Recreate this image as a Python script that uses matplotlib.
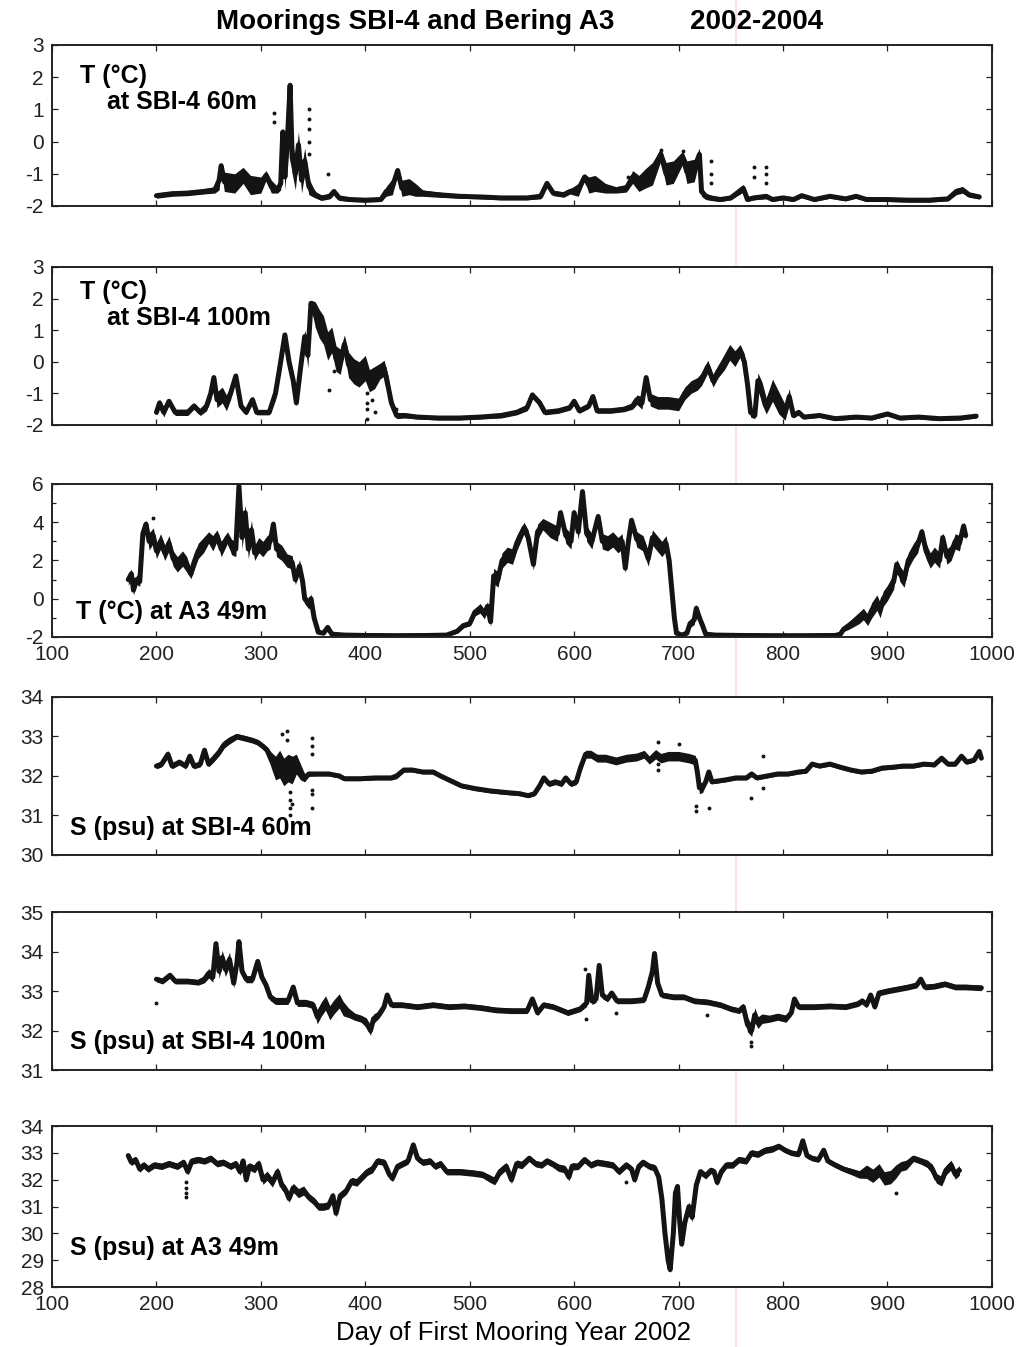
import matplotlib
matplotlib.use("Agg")
import matplotlib.pyplot as plt
from matplotlib.lines import Line2D
import numpy as np

plt.rcParams['font.family'] = ['Liberation Sans', 'DejaVu Sans']
plt.rcParams['axes.unicode_minus'] = False

# ---- T at SBI-4 60m : day, value, half-width of the noise band
t60_day = [200, 215, 230, 245, 256, 260, 262, 265, 275, 283, 290, 300, 305, 310, 316, 319, 321, 323,
           325, 328, 330, 333, 336, 339, 342, 346, 352, 358, 366, 370, 375, 385, 400, 415, 420, 426,
           431, 435, 442, 448, 455, 470, 490, 510, 530, 555, 568, 574, 580, 590, 596, 604, 610, 614,
           620, 630, 640, 650, 656, 662, 668, 675, 683, 688, 695, 704, 708, 715, 720, 722, 726, 731,
           740, 750, 762, 766, 772, 784, 790, 800, 810, 818, 830, 845, 860, 870, 880, 900, 920, 940,
           958, 966, 972, 978, 988]
t60_val = [-1.68, -1.62, -1.6, -1.55, -1.5, -1.2, -0.75, -1.25, -1.3, -1.05, -1.35, -1.35, -1.05, -1.4,
           -1.5, -1.3, 0.3, -1.1, -0.2, 1.75, -0.5, -1.0, -0.1, -1.2, -0.6, -1.4, -1.65, -1.75, -1.7,
           -1.55, -1.75, -1.8, -1.82, -1.8, -1.55, -1.4, -0.9, -1.45, -1.4, -1.5, -1.6, -1.65, -1.7,
           -1.72, -1.75, -1.75, -1.7, -1.3, -1.6, -1.65, -1.55, -1.5, -1.1, -1.35, -1.3, -1.45, -1.5,
           -1.45, -1.1, -1.3, -1.15, -1.0, -0.4, -1.0, -0.95, -0.5, -0.95, -0.9, -0.4, -1.55, -1.7,
           -1.75, -1.8, -1.75, -1.45, -1.8, -1.75, -1.7, -1.8, -1.75, -1.8, -1.68, -1.8, -1.7, -1.78,
           -1.7, -1.8, -1.8, -1.82, -1.82, -1.78, -1.55, -1.5, -1.65, -1.72]
t60_band = [0.08, 0.08, 0.08, 0.08, 0.1, 0.3, 0.1, 0.3, 0.3, 0.25, 0.3, 0.25, 0.15, 0.2, 0.1, 0.2,
            0.15, 0.4, 0.4, 0.1, 0.5, 0.5, 0.4, 0.4, 0.4, 0.25, 0.1, 0.08, 0.08, 0.1, 0.08, 0.06, 0.06,
            0.06, 0.15, 0.25, 0.1, 0.25, 0.25, 0.2, 0.1, 0.08, 0.06, 0.06, 0.06, 0.06, 0.08, 0.1, 0.08,
            0.08, 0.08, 0.2, 0.1, 0.25, 0.25, 0.15, 0.1, 0.12, 0.2, 0.25, 0.3, 0.35, 0.2, 0.35, 0.35,
            0.2, 0.35, 0.35, 0.2, 0.15, 0.1, 0.08, 0.06, 0.06, 0.12, 0.06, 0.06, 0.08, 0.06, 0.06, 0.06,
            0.06, 0.06, 0.06, 0.06, 0.06, 0.06, 0.06, 0.06, 0.06, 0.06, 0.1, 0.1, 0.08, 0.06]
t60_dot_day = [313, 313, 346, 346, 346, 346, 346, 364, 731, 731, 731, 772, 772, 784, 784, 784, 683, 704, 652]
t60_dot_val = [0.6, 0.9, 1.0, 0.7, 0.4, 0.0, -0.4, -1.0, -0.6, -1.0, -1.3, -0.8, -1.1, -0.8, -1.0, -1.3,
               -0.25, -0.3, -1.1]

# ---- T at SBI-4 100m
t100_day = [200, 203, 207, 212, 218, 230, 236, 242, 248, 252, 255, 258, 263, 267, 271, 276, 281, 286,
            292, 296, 308, 314, 318, 323, 327, 331, 334, 338, 342, 345, 348, 352, 356, 360, 364, 368,
            372, 376, 380, 384, 389, 394, 400, 404, 409, 414, 418, 422, 425, 430, 438, 450, 470, 490,
            510, 530, 545, 555, 560, 567, 572, 585, 596, 600, 605, 614, 618, 622, 635, 648, 656, 660,
            665, 669, 673, 680, 690, 700, 706, 712, 718, 722, 728, 733, 738, 744, 749, 754, 759, 763,
            766, 769, 773, 776, 780, 784, 790, 796, 802, 806, 810, 815, 820, 835, 850, 870, 885, 900,
            912, 930, 950, 970, 985]
t100_val = [-1.6, -1.3, -1.6, -1.25, -1.6, -1.6, -1.4, -1.6, -1.4, -1.0, -0.5, -1.2, -1.05, -1.3, -1.0,
            -0.45, -1.4, -1.6, -1.2, -1.6, -1.6, -1.0, -0.2, 0.85, 0.0, -0.6, -1.3, -0.2, 0.8, 0.2, 1.85,
            1.5, 1.2, 1.0, 0.5, 0.7, 0.1, 0.0, 0.55, -0.1, -0.3, -0.4, -0.2, -0.6, -0.5, -0.3, -0.2, -0.8,
            -1.3, -1.7, -1.7, -1.75, -1.78, -1.78, -1.75, -1.7, -1.6, -1.45, -1.05, -1.3, -1.6, -1.55,
            -1.45, -1.25, -1.55, -1.4, -1.1, -1.55, -1.55, -1.5, -1.4, -1.2, -1.3, -0.5, -1.2, -1.3, -1.3,
            -1.35, -1.0, -0.8, -0.7, -0.55, -0.15, -0.6, -0.3, 0.0, 0.3, 0.1, 0.35, 0.0, -0.7, -1.6, -1.7,
            -0.6, -1.0, -1.4, -0.9, -1.3, -1.6, -1.1, -1.7, -1.6, -1.75, -1.7, -1.8, -1.75, -1.78, -1.65,
            -1.78, -1.75, -1.8, -1.78, -1.72]
t100_band = [0.1, 0.1, 0.15, 0.1, 0.1, 0.1, 0.1, 0.1, 0.15, 0.2, 0.1, 0.25, 0.25, 0.25, 0.2, 0.1, 0.1,
             0.08, 0.1, 0.08, 0.08, 0.2, 0.25, 0.1, 0.25, 0.25, 0.1, 0.25, 0.2, 0.4, 0.1, 0.4, 0.45,
             0.45, 0.45, 0.4, 0.4, 0.4, 0.3, 0.4, 0.4, 0.4, 0.4, 0.35, 0.35, 0.25, 0.25, 0.35, 0.2, 0.1,
             0.08, 0.06, 0.06, 0.06, 0.06, 0.08, 0.08, 0.1, 0.1, 0.1, 0.08, 0.08, 0.08, 0.1, 0.08, 0.08,
             0.08, 0.08, 0.08, 0.08, 0.1, 0.15, 0.2, 0.1, 0.2, 0.2, 0.2, 0.2, 0.2, 0.2, 0.2, 0.2, 0.2,
             0.2, 0.2, 0.25, 0.25, 0.25, 0.2, 0.25, 0.25, 0.15, 0.1, 0.25, 0.35, 0.25, 0.35, 0.35, 0.25,
             0.25, 0.08, 0.08, 0.06, 0.06, 0.06, 0.06, 0.06, 0.06, 0.06, 0.06, 0.06, 0.06, 0.06]
t100_dot_day = [365, 370, 402, 402, 402, 402, 406, 409, 429]
t100_dot_val = [-0.9, -0.3, -1.0, -1.3, -1.5, -1.8, -1.2, -1.6, -1.5]

# ---- T at A3 49m
ta3_day = [173, 176, 178, 181, 184, 187, 190, 193, 197, 200, 204, 208, 212, 216, 220, 225, 229, 233,
           236, 240, 245, 250, 254, 258, 262, 268, 272, 276, 279, 282, 285, 288, 291, 294, 298, 302,
           306, 309, 312, 315, 320, 325, 330, 333, 337, 340, 342, 346, 348, 351, 355, 360, 364, 368,
           380, 400, 430, 460, 478, 488, 494, 500, 505, 510, 514, 517, 520, 523, 527, 531, 536, 541,
           545, 552, 556, 561, 565, 570, 577, 584, 587, 592, 597, 600, 604, 608, 612, 617, 623, 627,
           632, 637, 642, 646, 649, 652, 655, 660, 666, 671, 675, 678, 684, 688, 691, 694, 696, 698,
           703, 708, 711, 715, 717, 720, 723, 726, 735, 760, 790, 820, 850, 855, 858, 863, 868, 873,
           877, 881, 885, 890, 893, 896, 900, 903, 906, 909, 912, 916, 920, 925, 929, 933, 937, 941,
           945, 950, 953, 957, 961, 965, 969, 973, 975]
ta3_val = [1.0, 1.3, 0.45, 1.0, 0.9, 3.4, 3.9, 3.0, 3.3, 2.5, 3.0, 2.4, 2.9, 2.1, 1.8, 2.1, 1.8, 1.3,
           1.9, 2.5, 2.8, 3.2, 2.9, 3.3, 2.6, 3.2, 2.7, 2.6, 5.9, 3.2, 4.5, 2.6, 3.6, 2.4, 2.8, 2.6,
           2.9, 3.0, 3.9, 2.6, 2.4, 2.0, 1.9, 1.0, 1.7, 0.9, 0.0, -0.3, 0.0, -1.0, -1.75, -1.8, -1.5,
           -1.85, -1.9, -1.92, -1.93, -1.92, -1.9, -1.7, -1.4, -1.3, -0.7, -0.5, -0.8, -0.4, -1.2, 1.2,
           1.0, 2.0, 2.3, 2.2, 2.9, 3.7, 3.2, 1.8, 3.5, 3.9, 3.6, 3.4, 4.5, 3.3, 3.0, 4.5, 3.5, 5.6,
           3.4, 3.0, 4.3, 3.0, 2.9, 3.1, 2.8, 3.0, 1.6, 3.0, 4.1, 3.1, 2.9, 2.1, 3.2, 3.0, 2.6, 2.9,
           2.0, 0.2, -1.0, -1.8, -1.9, -1.8, -1.3, -1.1, -0.5, -1.0, -1.4, -1.85, -1.9, -1.92, -1.93,
           -1.93, -1.92, -1.85, -1.6, -1.4, -1.2, -1.0, -0.8, -1.1, -0.6, -0.2, -0.6, 0.0, 0.3, 0.6,
           0.9, 1.8, 1.3, 1.0, 2.0, 2.5, 2.8, 3.5, 2.5, 2.0, 2.3, 2.0, 3.2, 2.2, 2.4, 3.0, 2.9, 3.8, 3.3]
ta3_band = [0.3, 0.25, 0.25, 0.25, 0.25, 0.35, 0.2, 0.45, 0.4, 0.4, 0.4, 0.4, 0.4, 0.4, 0.4, 0.4, 0.4,
            0.25, 0.4, 0.4, 0.4, 0.3, 0.4, 0.3, 0.4, 0.3, 0.4, 0.4, 0.2, 0.6, 0.4, 0.5, 0.5, 0.4, 0.4,
            0.4, 0.4, 0.4, 0.2, 0.4, 0.4, 0.35, 0.35, 0.25, 0.35, 0.35, 0.25, 0.25, 0.25, 0.25, 0.1,
            0.08, 0.1, 0.06, 0.05, 0.05, 0.05, 0.05, 0.05, 0.1, 0.12, 0.12, 0.2, 0.25, 0.25, 0.25, 0.25,
            0.4, 0.4, 0.4, 0.4, 0.4, 0.4, 0.3, 0.4, 0.3, 0.4, 0.3, 0.4, 0.4, 0.2, 0.4, 0.4, 0.2, 0.4,
            0.2, 0.4, 0.4, 0.2, 0.4, 0.4, 0.4, 0.4, 0.4, 0.25, 0.4, 0.2, 0.4, 0.4, 0.4, 0.4, 0.4, 0.4,
            0.4, 0.4, 0.35, 0.25, 0.1, 0.06, 0.06, 0.2, 0.25, 0.2, 0.25, 0.2, 0.06, 0.05, 0.05, 0.05,
            0.05, 0.05, 0.05, 0.12, 0.2, 0.25, 0.3, 0.3, 0.3, 0.4, 0.4, 0.4, 0.4, 0.4, 0.4, 0.4, 0.25,
            0.4, 0.4, 0.4, 0.4, 0.4, 0.2, 0.4, 0.4, 0.4, 0.4, 0.25, 0.4, 0.4, 0.4, 0.4, 0.2, 0.25]
ta3_dot_day = [197]
ta3_dot_val = [4.2]

# ---- S at SBI-4 60m
s60_day = [200, 205, 211, 215, 222, 228, 232, 236, 242, 246, 250, 255, 260, 265, 270, 277, 285, 292,
           297, 302, 306, 310, 314, 318, 322, 326, 330, 334, 338, 342, 346, 355, 365, 375, 380, 395,
           410, 425, 430, 437, 445, 455, 465, 472, 480, 492, 505, 520, 535, 548, 556, 562, 567, 571,
           576, 582, 588, 592, 597, 602, 606, 611, 616, 622, 630, 640, 650, 660, 667, 672, 678, 683,
           690, 700, 710, 716, 718, 720, 723, 726, 729, 732, 745, 755, 765, 770, 775, 785, 795, 805,
           815, 822, 828, 835, 845, 855, 865, 875, 885, 895, 905, 915, 925, 935, 945, 952, 958, 965,
           971, 976, 983, 988, 990]
s60_val = [32.25, 32.3, 32.55, 32.25, 32.35, 32.25, 32.5, 32.25, 32.3, 32.65, 32.3, 32.45, 32.6, 32.8,
           32.9, 33.0, 32.95, 32.9, 32.85, 32.75, 32.65, 32.4, 32.2, 32.3, 32.1, 32.2, 32.15, 32.3,
           32.1, 31.95, 32.05, 32.05, 32.05, 32.0, 31.93, 31.93, 31.95, 31.95, 32.0, 32.15, 32.15,
           32.1, 32.1, 32.0, 31.9, 31.75, 31.68, 31.62, 31.58, 31.55, 31.5, 31.55, 31.75, 31.95, 31.8,
           31.85, 31.8, 31.95, 31.8, 31.85, 32.2, 32.55, 32.55, 32.45, 32.45, 32.38, 32.45, 32.48,
           32.55, 32.4, 32.55, 32.45, 32.5, 32.5, 32.45, 32.4, 32.1, 31.7, 31.7, 31.85, 32.1, 31.85,
           31.9, 31.95, 31.95, 32.05, 31.95, 32.0, 32.05, 32.05, 32.1, 32.12, 32.3, 32.25, 32.3, 32.22,
           32.15, 32.1, 32.12, 32.2, 32.22, 32.25, 32.25, 32.3, 32.28, 32.45, 32.3, 32.3, 32.5, 32.35,
           32.4, 32.62, 32.45]
s60_band = [0.07, 0.07, 0.09, 0.07, 0.07, 0.07, 0.09, 0.07, 0.07, 0.09, 0.07, 0.09, 0.09, 0.09, 0.09,
            0.07, 0.07, 0.07, 0.07, 0.07, 0.09, 0.2, 0.3, 0.35, 0.35, 0.35, 0.35, 0.25, 0.2, 0.1, 0.06,
            0.05, 0.05, 0.05, 0.05, 0.05, 0.05, 0.05, 0.07, 0.05, 0.05, 0.05, 0.05, 0.05, 0.05, 0.05,
            0.05, 0.05, 0.05, 0.05, 0.05, 0.05, 0.07, 0.07, 0.07, 0.07, 0.07, 0.07, 0.07, 0.07, 0.09,
            0.1, 0.1, 0.1, 0.1, 0.1, 0.1, 0.1, 0.1, 0.1, 0.12, 0.12, 0.12, 0.12, 0.12, 0.12, 0.12,
            0.15, 0.12, 0.07, 0.05, 0.05, 0.05, 0.05, 0.05, 0.06, 0.05, 0.05, 0.05, 0.05, 0.05, 0.05,
            0.05, 0.05, 0.05, 0.05, 0.05, 0.05, 0.05, 0.05, 0.05, 0.05, 0.05, 0.05, 0.05, 0.05, 0.05,
            0.05, 0.06, 0.05, 0.05, 0.06, 0.05]
s60_dot_day = [320, 325, 325, 328, 328, 328, 328, 330, 349, 349, 349, 349, 349, 349, 680, 680, 680,
               700, 717, 717, 729, 769, 781, 781]
s60_dot_val = [33.05, 32.9, 33.15, 31.0, 31.2, 31.4, 31.6, 31.3, 32.95, 32.75, 32.55, 31.65, 31.55,
               31.2, 32.85, 32.3, 32.15, 32.8, 31.1, 31.25, 31.2, 31.45, 32.5, 31.7]

# ---- S at SBI-4 100m
s100_day = [200, 206, 213, 218, 230, 240, 246, 250, 254, 257, 260, 263, 266, 270, 274, 277, 279, 282,
            286, 292, 297, 301, 305, 309, 314, 320, 326, 331, 335, 343, 350, 354, 358, 362, 366, 370,
            375, 379, 384, 390, 396, 401, 405, 408, 413, 418, 421, 425, 435, 450, 465, 480, 495, 510,
            525, 540, 555, 560, 565, 571, 580, 594, 606, 612, 614, 617, 621, 624, 627, 632, 636, 641,
            655, 667, 671, 675, 677, 680, 684, 695, 705, 715, 728, 740, 750, 758, 762, 766, 770, 773,
            776, 780, 787, 795, 803, 808, 811, 815, 830, 845, 860, 872, 876, 880, 884, 888, 892, 900,
            910, 920, 928, 932, 936, 945, 955, 965, 975, 990]
s100_val = [33.3, 33.25, 33.4, 33.25, 33.25, 33.22, 33.3, 33.45, 33.35, 34.2, 33.5, 33.85, 33.55, 33.8,
            33.2, 33.7, 34.25, 33.5, 33.3, 33.3, 33.75, 33.35, 33.15, 32.85, 32.75, 32.75, 32.75, 33.1,
            32.7, 32.7, 32.65, 32.35, 32.55, 32.7, 32.45, 32.6, 32.75, 32.55, 32.45, 32.35, 32.3, 32.2,
            32.0, 32.3, 32.4, 32.6, 32.9, 32.65, 32.65, 32.6, 32.65, 32.6, 32.62, 32.58, 32.52, 32.5,
            32.5, 32.8, 32.45, 32.65, 32.6, 32.45, 32.55, 32.7, 33.4, 32.75, 32.8, 33.65, 32.9, 32.8,
            32.95, 32.75, 32.75, 32.78, 33.1, 33.5, 33.95, 33.2, 32.9, 32.85, 32.85, 32.75, 32.72,
            32.65, 32.55, 32.5, 32.6, 32.15, 32.0, 32.4, 32.2, 32.3, 32.3, 32.35, 32.3, 32.45, 32.8,
            32.6, 32.6, 32.62, 32.6, 32.68, 32.75, 32.65, 32.9, 32.6, 32.95, 33.0, 33.05, 33.1, 33.15,
            33.3, 33.1, 33.12, 33.18, 33.1, 33.1, 33.08]
s100_band = [0.07, 0.07, 0.07, 0.07, 0.07, 0.07, 0.09, 0.12, 0.12, 0.08, 0.18, 0.18, 0.18, 0.18, 0.12,
             0.12, 0.08, 0.12, 0.09, 0.09, 0.08, 0.09, 0.09, 0.09, 0.09, 0.09, 0.09, 0.08, 0.09, 0.09,
             0.09, 0.18, 0.18, 0.18, 0.18, 0.18, 0.18, 0.18, 0.12, 0.09, 0.09, 0.12, 0.12, 0.12, 0.09,
             0.09, 0.07, 0.07, 0.07, 0.07, 0.07, 0.07, 0.07, 0.07, 0.07, 0.07, 0.07, 0.06, 0.07, 0.07,
             0.07, 0.07, 0.07, 0.09, 0.08, 0.09, 0.09, 0.08, 0.09, 0.07, 0.07, 0.07, 0.07, 0.07, 0.12,
             0.18, 0.08, 0.12, 0.07, 0.07, 0.07, 0.07, 0.07, 0.07, 0.07, 0.07, 0.09, 0.18, 0.15, 0.18,
             0.15, 0.12, 0.09, 0.09, 0.09, 0.07, 0.06, 0.07, 0.07, 0.07, 0.07, 0.07, 0.07, 0.07, 0.07,
             0.07, 0.07, 0.07, 0.07, 0.07, 0.07, 0.06, 0.07, 0.07, 0.07, 0.07, 0.07, 0.07]
s100_dot_day = [200, 610, 611, 640, 727, 769, 769]
s100_dot_val = [32.7, 33.55, 32.3, 32.45, 32.4, 31.6, 31.7]

# ---- S at A3 49m
sa3_day = [173, 176, 180, 184, 188, 192, 198, 205, 212, 220, 226, 230, 234, 240, 246, 252, 258, 264,
           271, 276, 280, 283, 286, 289, 294, 298, 302, 306, 311, 316, 320, 324, 327, 331, 336, 341,
           346, 351, 355, 360, 365, 369, 372, 376, 382, 387, 392, 397, 402, 407, 412, 418, 423, 426,
           431, 436, 441, 446, 450, 455, 462, 467, 472, 478, 490, 503, 512, 519, 524, 529, 535, 540,
           545, 550, 557, 563, 569, 574, 579, 585, 591, 595, 598, 604, 610, 616, 622, 630, 637, 643,
           650, 655, 658, 662, 666, 672, 677, 681, 684, 687, 690, 692, 695, 697, 699, 701, 703, 706,
           710, 713, 717, 721, 726, 731, 734, 737, 741, 746, 752, 758, 765, 770, 776, 783, 790, 796,
           802, 808, 815, 819, 823, 828, 834, 839, 843, 850, 858, 866, 873, 880, 886, 892, 897, 903,
           908, 913, 918, 925, 932, 938, 943, 947, 952, 956, 961, 965, 969]
sa3_val = [32.9, 32.65, 32.75, 32.4, 32.55, 32.4, 32.55, 32.5, 32.6, 32.5, 32.65, 32.3, 32.7, 32.75,
           32.7, 32.8, 32.6, 32.65, 32.5, 32.6, 32.3, 32.7, 32.0, 32.5, 32.4, 32.6, 32.0, 32.15, 31.9,
           32.3, 31.8, 31.6, 31.3, 31.7, 31.5, 31.6, 31.35, 31.2, 31.0, 31.0, 31.05, 31.4, 30.75, 31.4,
           31.6, 31.95, 31.9, 32.1, 32.3, 32.4, 32.7, 32.65, 32.2, 32.05, 32.5, 32.6, 32.7, 33.3, 32.8,
           32.65, 32.7, 32.5, 32.6, 32.3, 32.3, 32.25, 32.2, 32.05, 31.95, 32.3, 32.5, 32.0, 32.6,
           32.55, 32.8, 32.6, 32.55, 32.7, 32.6, 32.45, 32.4, 32.1, 32.5, 32.5, 32.75, 32.55, 32.65,
           32.6, 32.55, 32.3, 32.55, 32.4, 32.0, 32.5, 32.65, 32.5, 32.45, 32.1, 31.3, 30.0, 29.0,
           28.65, 30.0, 31.5, 31.75, 30.5, 29.6, 30.4, 31.0, 30.6, 31.8, 32.3, 32.15, 32.35, 32.3,
           31.9, 32.3, 32.55, 32.55, 32.75, 32.7, 33.0, 32.95, 33.1, 33.15, 33.25, 33.1, 33.0, 32.95,
           33.45, 32.9, 32.8, 32.75, 33.1, 32.7, 32.55, 32.4, 32.3, 32.2, 32.3, 32.15, 32.35, 32.05,
           32.1, 32.3, 32.5, 32.55, 32.8, 32.7, 32.6, 32.4, 32.05, 31.95, 32.35, 32.55, 32.2, 32.35]
sa3_band = [0.12, 0.12, 0.12, 0.12, 0.12, 0.12, 0.12, 0.12, 0.12, 0.12, 0.12, 0.12, 0.12, 0.12, 0.12,
            0.12, 0.12, 0.12, 0.12, 0.12, 0.14, 0.12, 0.12, 0.14, 0.14, 0.14, 0.17, 0.17, 0.17, 0.17,
            0.17, 0.17, 0.14, 0.17, 0.17, 0.17, 0.14, 0.14, 0.14, 0.14, 0.14, 0.14, 0.14, 0.14, 0.14,
            0.14, 0.14, 0.14, 0.14, 0.14, 0.12, 0.12, 0.12, 0.12, 0.12, 0.12, 0.12, 0.12, 0.12, 0.12,
            0.12, 0.12, 0.12, 0.12, 0.12, 0.12, 0.12, 0.14, 0.14, 0.14, 0.14, 0.14, 0.14, 0.14, 0.12,
            0.12, 0.12, 0.12, 0.12, 0.14, 0.14, 0.14, 0.14, 0.12, 0.12, 0.12, 0.12, 0.12, 0.12, 0.12,
            0.12, 0.12, 0.12, 0.12, 0.12, 0.12, 0.12, 0.12, 0.14, 0.17, 0.17, 0.12, 0.17, 0.17, 0.12,
            0.17, 0.12, 0.17, 0.17, 0.17, 0.17, 0.12, 0.12, 0.12, 0.12, 0.12, 0.12, 0.12, 0.12, 0.12,
            0.12, 0.12, 0.12, 0.12, 0.12, 0.1, 0.1, 0.1, 0.1, 0.1, 0.1, 0.1, 0.1, 0.1, 0.1, 0.1, 0.1,
            0.12, 0.14, 0.25, 0.25, 0.25, 0.25, 0.25, 0.25, 0.18, 0.18, 0.12, 0.12, 0.14, 0.18, 0.18,
            0.18, 0.18, 0.18, 0.18, 0.18]
sa3_dot_day = [228, 228, 228, 228, 650, 908]
sa3_dot_val = [31.9, 31.7, 31.5, 31.35, 31.9, 31.5]

INK = '#141414'
LABEL_FS = 18


def draw_panel(ax, day, val, band, dot_day, dot_val, ylim, major, minor=None, xlabels=False):
    d = np.array(day)
    v = np.array(val)
    b = np.array(band)
    ax.fill_between(d, v - b, v + b, color=INK, lw=0)
    ax.plot(d, v, color=INK, lw=3.6, solid_joinstyle='round', solid_capstyle='round')
    ax.plot(dot_day, dot_val, 'o', ms=2.8, color=INK, mec='none')
    ax.set_xlim(100, 1000)
    ax.set_ylim(*ylim)
    ax.set_xticks(np.arange(100, 1001, 100))
    ax.set_yticks(major)
    if minor is not None:
        ax.set_yticks(minor, minor=True)
    ax.tick_params(which='both', direction='in', top=True, right=True, length=4, width=0.9,
                   labelsize=15, pad=6, colors='#222222')
    ax.tick_params(which='minor', length=3)
    if not xlabels:
        ax.set_xticklabels([])
    for sp in ax.spines.values():
        sp.set_linewidth(1.4)
        sp.set_color('#222222')


fig = plt.figure(figsize=(10.16, 13.47), dpi=100)

# faint pink scan streak running down the page (drawn under the panels)
fig.add_artist(Line2D([736 / 1016, 736 / 1016], [0, 1], color='#f5dde2', lw=1.2,
                      transform=fig.transFigure, zorder=0))

ax1 = fig.add_axes([0.0512, 0.8471, 0.925, 0.1195])
draw_panel(ax1, t60_day, t60_val, t60_band, t60_dot_day, t60_dot_val, (-2, 3), np.arange(-2, 4))
ax1.text(0.03, 0.81, 'T (°C)', transform=ax1.transAxes, fontsize=LABEL_FS, fontweight='bold', va='center')
ax1.text(0.058, 0.645, 'at SBI-4 60m', transform=ax1.transAxes, fontsize=LABEL_FS, fontweight='bold',
         va='center')

ax2 = fig.add_axes([0.0512, 0.6845, 0.925, 0.1173])
draw_panel(ax2, t100_day, t100_val, t100_band, t100_dot_day, t100_dot_val, (-2, 3), np.arange(-2, 4))
ax2.text(0.03, 0.84, 'T (°C)', transform=ax2.transAxes, fontsize=LABEL_FS, fontweight='bold', va='center')
ax2.text(0.058, 0.677, 'at SBI-4 100m', transform=ax2.transAxes, fontsize=LABEL_FS, fontweight='bold',
         va='center')

ax3 = fig.add_axes([0.0512, 0.5271, 0.925, 0.1136])
draw_panel(ax3, ta3_day, ta3_val, ta3_band, ta3_dot_day, ta3_dot_val, (-2, 6), np.arange(-2, 7, 2),
           minor=np.arange(-1, 6, 2), xlabels=True)
ax3.text(0.025, 0.165, 'T (°C) at A3 49m', transform=ax3.transAxes, fontsize=LABEL_FS, fontweight='bold',
         va='center')

ax4 = fig.add_axes([0.0512, 0.3653, 0.925, 0.1173])
draw_panel(ax4, s60_day, s60_val, s60_band, s60_dot_day, s60_dot_val, (30, 34), np.arange(30, 35))
ax4.text(0.019, 0.17, 'S (psu) at SBI-4 60m', transform=ax4.transAxes, fontsize=LABEL_FS, fontweight='bold',
         va='center')

ax5 = fig.add_axes([0.0512, 0.2056, 0.925, 0.1173])
draw_panel(ax5, s100_day, s100_val, s100_band, s100_dot_day, s100_dot_val, (31, 35), np.arange(31, 36))
ax5.text(0.019, 0.177, 'S (psu) at SBI-4 100m', transform=ax5.transAxes, fontsize=LABEL_FS, fontweight='bold',
         va='center')

ax6 = fig.add_axes([0.0512, 0.0445, 0.925, 0.1195])
draw_panel(ax6, sa3_day, sa3_val, sa3_band, sa3_dot_day, sa3_dot_val, (28, 34), np.arange(28, 35),
           xlabels=True)
ax6.text(0.019, 0.242, 'S (psu) at A3 49m', transform=ax6.transAxes, fontsize=LABEL_FS, fontweight='bold',
         va='center')

fig.text(415 / 1016, 1 - 22 / 1347, 'Moorings SBI-4 and Bering A3', ha='center', va='center',
         fontsize=20, fontweight='bold')
fig.text(757 / 1016, 1 - 22 / 1347, '2002-2004', ha='center', va='center', fontsize=20, fontweight='bold')
fig.text(513 / 1016, 1 - 1333 / 1347, 'Day of First Mooring Year 2002', ha='center', va='center',
         fontsize=18.5)

fig.savefig('out.png', dpi=100, facecolor='white')
